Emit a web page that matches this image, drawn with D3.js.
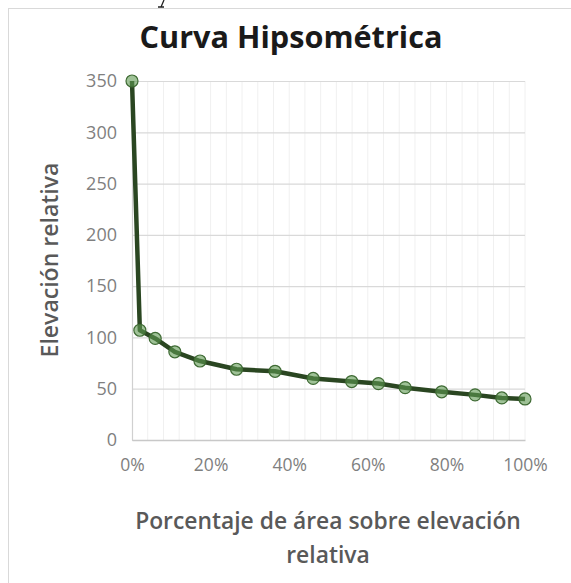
<!DOCTYPE html>
<html>
<head>
<meta charset="utf-8">
<script src="https://cdn.jsdelivr.net/npm/d3@7"></script>
<style>
  html, body { margin: 0; padding: 0; background: #ffffff; }
  svg { display: block; }
</style>
</head>
<body>
<svg id="chart" width="571" height="583"></svg>
<script>
// ---- data ----
const areaPct = [0, 0.020, 0.059, 0.109, 0.173, 0.266, 0.364, 0.461, 0.559, 0.627, 0.695, 0.788, 0.873, 0.941, 1.0];
const elevation = [350, 107, 99, 86, 77, 69, 67, 60, 57, 55, 51, 47, 44, 41, 40];
const yTicks = [0, 50, 100, 150, 200, 250, 300, 350];
const xTicks = [0, 0.2, 0.4, 0.6, 0.8, 1.0];
const titleText = "Curva Hipsométrica";
const xTitleLines = ["Porcentaje de área sobre elevación", "relativa"];
const yTitleText = "Elevación relativa";

// ---- layout ----
const svg = d3.select("#chart");
const W = 571, H = 583;
const plot = { left: 132, right: 525, top: 81, bottom: 440 };
const FONT = "'Open Sans', 'Noto Sans', sans-serif";

const x = d3.scaleLinear().domain([0, 1]).range([plot.left, plot.right]);
const y = d3.scaleLinear().domain([0, 350]).range([plot.bottom, plot.top]);

// chart border
svg.append("rect")
  .attr("x", 8.5).attr("y", 8.5)
  .attr("width", W + 10).attr("height", H + 10)
  .attr("fill", "#ffffff")
  .attr("stroke", "#d9d9d9").attr("stroke-width", 1);

// fragment of a cut-off glyph above the chart
svg.append("path")
  .attr("d", "M164,0 L161,7 M158,7 L164,7")
  .attr("stroke", "#222").attr("stroke-width", 1.3).attr("fill", "none");

// minor vertical gridlines
const minorX = d3.range(0.04, 1.0001, 0.04);
svg.append("g").selectAll("line").data(minorX).join("line")
  .attr("x1", d => x(d)).attr("x2", d => x(d))
  .attr("y1", plot.top).attr("y2", plot.bottom)
  .attr("stroke", "#f0f0f0").attr("stroke-width", 1);

// horizontal gridlines via axis
const yGrid = d3.axisLeft(y).tickValues(yTicks).tickSize(-(plot.right - plot.left)).tickFormat("");
const gGrid = svg.append("g").attr("transform", `translate(${plot.left},0)`).call(yGrid);
gGrid.select(".domain").remove();
gGrid.selectAll("line").attr("stroke", "#d9d9d9").attr("stroke-width", 1.2);

// y axis labels
const yAxis = d3.axisLeft(y).tickValues(yTicks).tickSize(0).tickPadding(15).tickFormat(d3.format("d"));
const gy = svg.append("g").attr("transform", `translate(${plot.left},0)`).call(yAxis);
gy.select(".domain").attr("stroke", "#d0d0d0").attr("stroke-width", 1.2);
gy.selectAll("text").attr("font-family", FONT).attr("font-size", 18).attr("fill", "#7f7f7f");

// x axis
const xAxis = d3.axisBottom(x).tickValues(xTicks).tickSize(0).tickPadding(19).tickFormat(d3.format(".0%"));
const gx = svg.append("g").attr("transform", `translate(0,${plot.bottom})`).call(xAxis);
gx.select(".domain").attr("stroke", "#c8c8c8").attr("stroke-width", 1.5);
gx.selectAll("text").attr("font-family", FONT).attr("font-size", 17.5).attr("fill", "#7f7f7f");

// line
const pts = areaPct.map((p, i) => [p, elevation[i]]);
svg.append("path")
  .datum(pts)
  .attr("fill", "none")
  .attr("stroke", "#2a4621")
  .attr("stroke-width", 4.5)
  .attr("stroke-linejoin", "round")
  .attr("d", d3.line().x(d => x(d[0])).y(d => y(d[1])));

// markers
svg.append("g").selectAll("circle").data(pts).join("circle")
  .attr("cx", d => x(d[0])).attr("cy", d => y(d[1]))
  .attr("r", 6)
  .attr("fill", "#5f9a52").attr("fill-opacity", 0.6)
  .attr("stroke", "#3e6a33").attr("stroke-width", 1.2);

// helper to fit text to a target width
function fit(sel, target) {
  const w = sel.node().getComputedTextLength();
  const fs = parseFloat(sel.attr("font-size"));
  sel.attr("font-size", fs * target / w);
}

// title
const t = svg.append("text")
  .attr("x", 291).attr("y", 48)
  .attr("text-anchor", "middle")
  .attr("font-family", FONT).attr("font-weight", "bold")
  .attr("font-size", 28).attr("fill", "#1a1a1a")
  .text(titleText);
fit(t, 303);

// x title
const xt1 = svg.append("text")
  .attr("x", 328).attr("y", 529)
  .attr("text-anchor", "middle")
  .attr("font-family", FONT).attr("font-weight", "600")
  .attr("font-size", 19).attr("fill", "#595959")
  .text(xTitleLines[0]);
fit(xt1, 386);
svg.append("text")
  .attr("x", 328).attr("y", 563)
  .attr("text-anchor", "middle")
  .attr("font-family", FONT).attr("font-weight", "600")
  .attr("font-size", xt1.attr("font-size")).attr("fill", "#595959")
  .text(xTitleLines[1]);

// y title
const yt = svg.append("text")
  .attr("transform", "translate(58,260) rotate(-90)")
  .attr("text-anchor", "middle")
  .attr("font-family", FONT).attr("font-weight", "600")
  .attr("font-size", 18).attr("fill", "#595959")
  .text(yTitleText);
fit(yt, 195);
</script>
</body>
</html>
